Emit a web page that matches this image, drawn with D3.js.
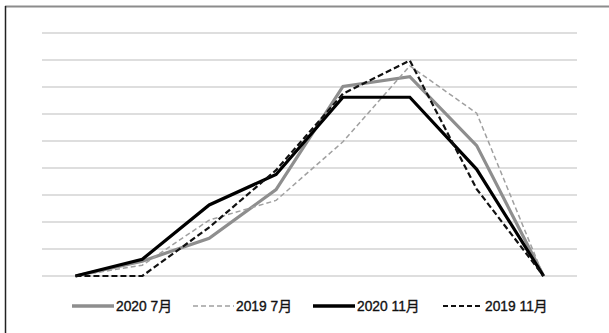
<!DOCTYPE html>
<html><head><meta charset="utf-8">
<script src="https://cdn.jsdelivr.net/npm/d3@7"></script>
<style>body{margin:0;background:#fff;}svg{display:block;}</style>
</head><body>
<svg id="c" width="609" height="333"></svg>
<script>
const categories = ["1","2","3","4","5","6","7","8"];
const gridTicks = [0,1,2,3,4,5,6,7,8,9];
const s2020Jul = [0, 0.55, 1.4, 3.2, 7.02, 7.38, 4.83, 0];
const s2019Jul = [0, 0.4, 2.07, 2.8, 4.97, 7.78, 6.03, 0];
const s2020Nov = [0, 0.62, 2.63, 3.76, 6.62, 6.62, 3.95, 0];
const s2019Nov = [0, 0, 1.8, 3.92, 6.75, 7.98, 3.22, 0];
const seriesNames = ["2020 7月","2019 7月","2020 11月","2019 11月"];

const series = [
  {name: seriesNames[0], values: s2020Jul, color: "#8e8e8e", width: 3.2, dash: null},
  {name: seriesNames[1], values: s2019Jul, color: "#a0a0a0", width: 1.5, dash: "5,3"},
  {name: seriesNames[2], values: s2020Nov, color: "#000", width: 3.2, dash: null},
  {name: seriesNames[3], values: s2019Nov, color: "#111", width: 2.2, dash: "6,3"}
];

const svg = d3.select("#c");
// frame
svg.append("line").attr("x1",5).attr("x2",609).attr("y1",6.5).attr("y2",6.5).attr("stroke","#8c8c8c").attr("stroke-width",2);
svg.append("line").attr("x1",5.5).attr("x2",5.5).attr("y1",6).attr("y2",333).attr("stroke","#222").attr("stroke-width",1.5);

const x = d3.scalePoint().domain(categories).range([42,577]).padding(0.5);
const y = d3.scaleLinear().domain([0,9]).range([276,33]);

svg.append("g").selectAll("line").data(gridTicks).join("line")
  .attr("x1",42).attr("x2",577)
  .attr("y1",d=>y(d)).attr("y2",d=>y(d))
  .attr("stroke","#d3d3d3").attr("stroke-width",1.5);

const line = d3.line().x((d,i)=>x(categories[i])).y(d=>y(d));
svg.append("g").selectAll("path").data(series).join("path")
  .attr("d",d=>line(d.values))
  .attr("fill","none")
  .attr("stroke",d=>d.color)
  .attr("stroke-width",d=>d.width)
  .attr("stroke-dasharray",d=>d.dash)
  .attr("stroke-linejoin","miter");

// legend
const legX = [72,193,313,443];
const legLen = [42,41,42,40];
const lg = svg.append("g").selectAll("g").data(series).join("g")
  .attr("transform",(d,i)=>`translate(${legX[i]},306)`);
lg.append("line").attr("x1",0).attr("x2",(d,i)=>legLen[i]).attr("y1",0).attr("y2",0)
  .attr("stroke",d=>d.color)
  .attr("stroke-width",d=>d.dash? (d.width>2?2.2:1.6) : 3.5)
  .attr("stroke-dasharray",d=>d.dash?"5,3":null);
lg.append("text").attr("x",(d,i)=>legLen[i]+2).attr("y",4.8)
  .attr("font-family","'Liberation Sans', Arial, 'Noto Sans CJK SC', sans-serif")
  .attr("font-size",13.8).attr("fill","#111")
  .attr("stroke","#111").attr("stroke-width",0.35)
  .text(d=>d.name);
</script>
</body></html>
